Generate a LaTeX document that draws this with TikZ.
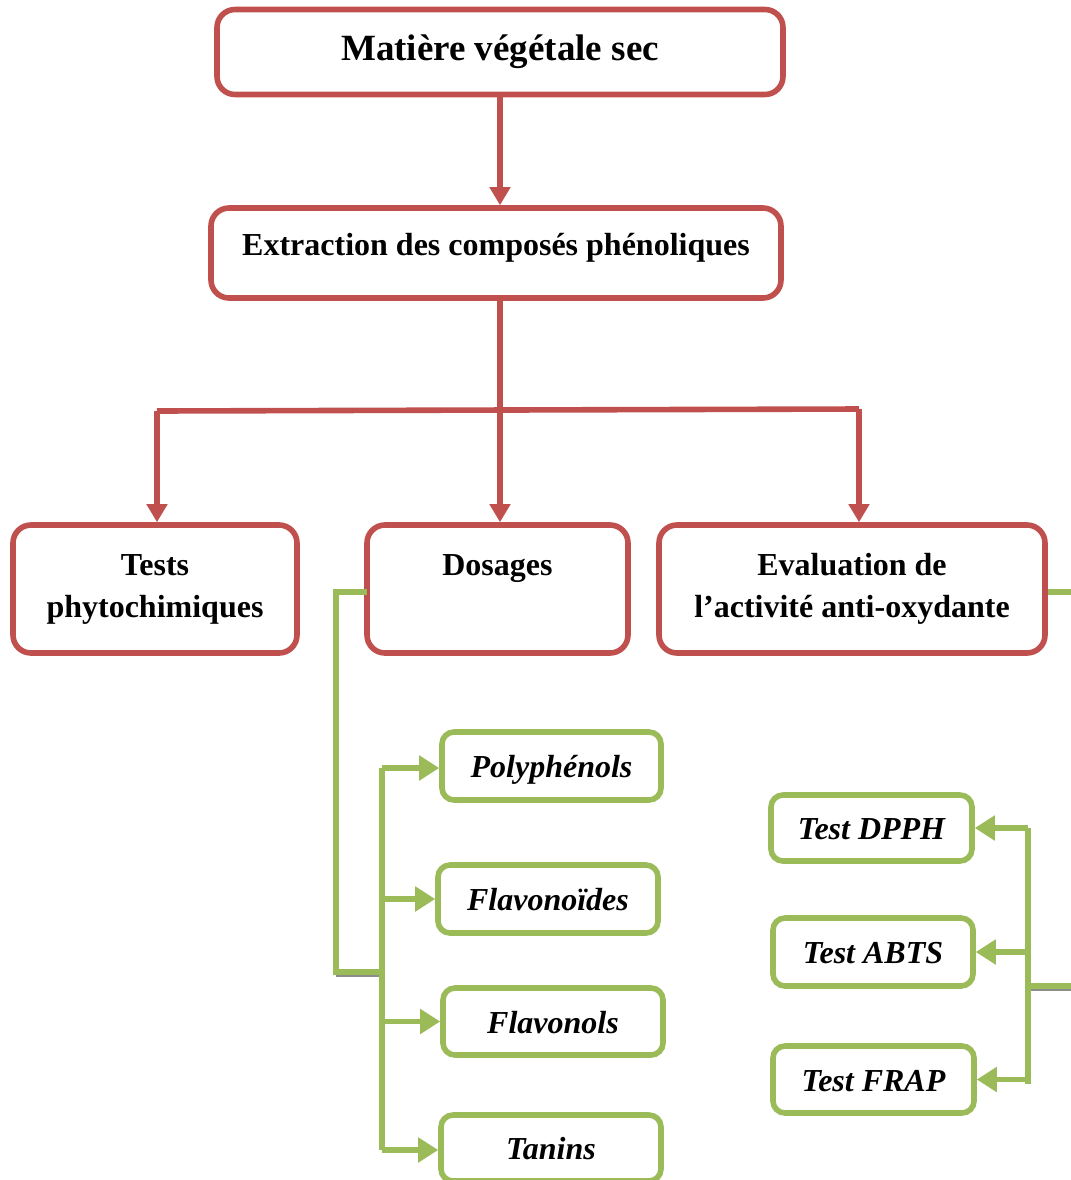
\documentclass[tikz,border=0pt]{standalone}
\usepackage{fontspec}
\setmainfont{Liberation Serif}
\usetikzlibrary{arrows.meta}
\definecolor{myred}{HTML}{C0504D}
\definecolor{mygreen}{HTML}{9BBB59}
\definecolor{shadowgray}{HTML}{8C8C8C}
\tikzset{
  redbox/.style={draw=myred, line width=2.8pt, rounded corners=9pt, fill=white, align=center,
    font=\bfseries\fontsize{16}{21}\selectfont, inner sep=0pt},
  greenbox/.style={draw=mygreen, line width=2.8pt, rounded corners=6pt, fill=white,
    font=\bfseries\itshape\fontsize{16}{18}\selectfont, inner sep=0pt, text height=15pt, text depth=3.5pt},
  redline/.style={draw=myred, line width=2.8pt},
  redarrow/.style={redline, -{Triangle[length=9pt,width=10pt]}},
  greenline/.style={draw=mygreen, line width=2.8pt},
  greenarrow/.style={greenline, -{Triangle[length=10pt,width=12pt]}},
  shadowline/.style={draw=shadowgray, line width=1.6pt},
}
\begin{document}
\begin{tikzpicture}[x=0.5pt,y=-0.5pt]
\path[use as bounding box] (0,0) rectangle (1071,1180);

% red boxes
\node[redbox, minimum width=283pt, minimum height=42.5pt, font=\bfseries\fontsize{18.5}{22}\selectfont] (n1) at (500,52) {Matière végétale sec};
\node[redbox, minimum width=285pt, minimum height=45pt, text height=11pt, text depth=9pt] (n2) at (496,253) {Extraction des composés phénoliques};
\node[redbox, minimum width=142pt, minimum height=64pt] (tests) at (155,589) {Tests\\phytochimiques};
\node[redbox, minimum width=130.5pt, minimum height=64pt] (dos) at (497.5,589) {Dosages\\\phantom{Xp}};
\node[redbox, minimum width=193pt, minimum height=64pt] (eval) at (852,589) {Evaluation de\\l’activité anti-oxydante};

% green boxes
\node[greenbox, minimum width=109.5pt, minimum height=34pt] (poly) at (551.5,766) {Polyphénols};
\node[greenbox, minimum width=110pt, minimum height=34pt] (flavo) at (548,899) {Flavonoïdes};
\node[greenbox, minimum width=110pt, minimum height=33.5pt] (flavon) at (553,1021.5) {Flavonols};
\node[greenbox, minimum width=110pt, minimum height=33pt] (tanins) at (551,1148) {Tanins};
\node[greenbox, minimum width=100.5pt, minimum height=33pt] (dpph) at (871.5,828) {Test DPPH};
\node[greenbox, minimum width=100pt, minimum height=34pt] (abts) at (873,952) {Test ABTS};
\node[greenbox, minimum width=100.5pt, minimum height=33.5pt] (frap) at (873.5,1079.5) {Test FRAP};

% red connectors
\draw[redarrow] (n1.south) -- (n1.south |- n2.north);
\coordinate (hub) at (500,410);
\coordinate (hl) at (157,411);
\coordinate (hr) at (859,409);
\draw[redline] (n2.south -| hub) -- (hub);
\draw[redline] (hl) -- (hr);
\draw[redarrow] (hl) -- (hl |- tests.north);
\draw[redarrow] (hub) -- (hub |- dos.north);
\draw[redarrow] (hr) -- (hr |- eval.north);

% green connectors, left
\coordinate (dl) at (367,592);
\coordinate (lc) at (336,972);
\coordinate (lt) at (382,972);
\coordinate (ltop) at (382,768);
\coordinate (lbot) at (382,1150);
\draw[shadowline] (336,975.5) -- (383,975.5);
\draw[greenline] (dl) -| (lc) -- (lt);
\draw[greenline] (ltop) -- (lbot);
\draw[greenarrow] (ltop) -- (ltop -| poly.west);
\draw[greenarrow] (flavo.west -| lt) -- (flavo.west);
\draw[greenarrow] (flavon.west -| lt) -- (flavon.west);
\draw[greenarrow] (lbot) -- (lbot -| tanins.west);

% green connectors, right
\coordinate (er) at (1071,592);
\coordinate (rt) at (1028,828);
\coordinate (rb) at (1028,1084);
\coordinate (rm) at (1028,986);
\coordinate (rend) at (1071,986);
\draw[greenline] (eval.east |- er) -- (er);
\draw[shadowline] (1027,989.5) -- (1071,989.5);
\draw[greenline] (rm) -- (rend);
\draw[greenline] (rt) -- (rb);
\draw[greenarrow] (rt) -- (rt -| dpph.east);
\draw[greenarrow] (abts.east -| rt) -- (abts.east);
\draw[greenarrow] (frap.east -| rt) -- (frap.east);
\end{tikzpicture}
\end{document}
